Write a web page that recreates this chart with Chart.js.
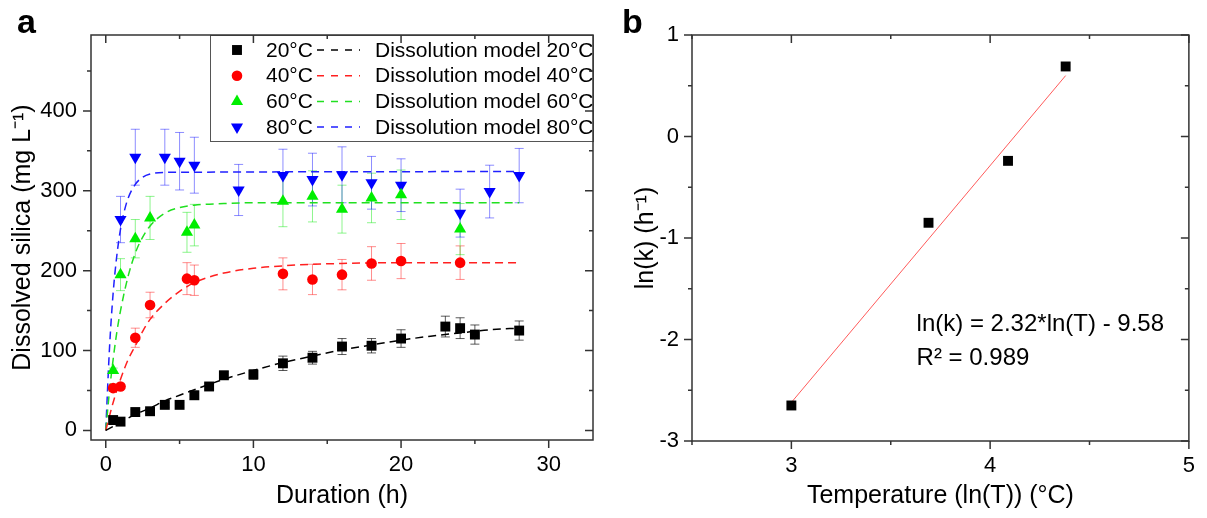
<!DOCTYPE html>
<html>
<head>
<meta charset="utf-8">
<script src="https://cdn.jsdelivr.net/npm/chart.js@4.4.0/dist/chart.umd.min.js"></script>
<style>
    body { margin: 0; background: #fff; }
    #wrap { position: relative; width: 1207px; height: 518px; }
    canvas { position: absolute; top: 0; }
    #silica-chart { left: 0; }
    #rate-chart { left: 610px; }
</style>
</head>
<body>
<div id="wrap">
    <canvas id="silica-chart" width="610" height="518"></canvas>
    <canvas id="rate-chart" width="597" height="518"></canvas>
</div>
<script>
// ---- panel a: dissolved silica (mg/L) vs duration (h)
const temps = ['20°C', '40°C', '60°C', '80°C']

const t20 = [0.5, 1, 2, 3, 4, 5, 6, 7, 8, 10, 12, 14, 16, 18, 20, 23, 24, 25, 28]
const c20 = [13, 11, 23, 24, 32, 32, 44, 55, 69, 70, 84, 91, 105, 106, 115, 130, 128, 120, 125]
const e20 = [2, 2, 3, 3, 3, 3, 5, 4, 5, 6, 9, 8, 10, 9, 11, 13, 13, 12, 12]

const t40 = [0.5, 1, 2, 3, 5.5, 6, 12, 14, 16, 18, 20, 24]
const c40 = [53, 55, 116, 157, 190, 188, 196, 189, 195, 209, 212, 210]
const e40 = [3, 3, 12, 16, 20, 19, 20, 19, 19, 21, 22, 21]

const t60 = [0.5, 1, 2, 3, 5.5, 6, 12, 14, 16, 18, 20, 24]
const c60 = [75, 195, 240, 266, 248, 257, 287, 293, 277, 291, 295, 252]
const e60 = [3, 20, 24, 27, 25, 26, 32, 32, 30, 31, 31, 32]

const t80 = [1, 2, 4, 5, 6, 9, 12, 14, 16, 18, 20, 24, 26, 28]
const c80 = [264, 342, 342, 337, 332, 301, 319, 314, 320, 310, 307, 272, 299, 319]
const e80 = [29, 35, 35, 36, 35, 32, 33, 33, 35, 33, 33, 30, 33, 34]

// dissolution model curves
const m20x = [0, 1, 2, 3, 4, 5, 6, 8, 10, 12, 14, 16, 18, 20, 22, 24, 26, 28]
const m20y = [0, 10, 20, 28, 37, 44, 51, 64, 75, 85, 93, 101, 107, 113, 118, 122, 126, 128]
const m40x = [0, 0.5, 1, 1.5, 2, 2.5, 3, 4, 5, 6, 7, 8, 10, 12, 14, 16, 20, 24, 28]
const m40y = [0, 35, 64, 88, 106, 124, 139, 159, 174, 185, 192, 197, 203, 206, 208, 209, 210, 210, 210]
const m60x = [0, 0.25, 0.5, 0.75, 1, 1.5, 2, 2.5, 3, 4, 5, 6, 8, 10, 28]
const m60y = [0, 49, 89, 123, 150, 192, 222, 242, 256, 272, 279, 282, 284, 285, 285]
const m80x = [0, 0.25, 0.5, 0.75, 1, 1.25, 1.5, 2, 2.5, 3, 4, 28]
const m80y = [0, 102, 172, 219, 252, 274, 290, 308, 317, 321, 323, 324]

const xTicksA = [0, 10, 20, 30]
const xMinorA = [5, 15, 25]
const yTicksA = [0, 100, 200, 300, 400]
const yMinorA = [50, 150, 250, 350, 450]

// ---- panel b: ln(k) vs ln(T)
const lnT = [3.00, 3.69, 4.09, 4.38]
const lnK = [-2.65, -0.85, -0.24, 0.69]
const fitX = [3.00, 4.38]
const fitY = [-2.62, 0.60]

const xTicksB = [3, 4, 5]
const xMinorB = [2.5, 3.5, 4.5]
const yTicksB = [-3, -2, -1, 0, 1]
const yMinorB = [-2.5, -1.5, -0.5, 0.5]

const FONT = '"Liberation Sans", Arial, sans-serif'

function pts(xs, ys) {
    return xs.map((x, i) => ({x: x, y: ys[i]}))
}

// frame round the plot area + major/minor ticks on all four sides
const frameTicks = {
    id: 'frameTicks',
    afterDraw(chart, args, opts) {
        const {ctx, chartArea: a, scales: {x, y}} = chart
        ctx.save()
        ctx.strokeStyle = '#333'
        ctx.lineWidth = 1.5
        ctx.strokeRect(a.left, a.top, a.right - a.left, a.bottom - a.top)
        ctx.beginPath()
        const xt = (vals, len) => vals.forEach(v => {
            const px = x.getPixelForValue(v)
            ctx.moveTo(px, a.bottom); ctx.lineTo(px, a.bottom + len)
            ctx.moveTo(px, a.top); ctx.lineTo(px, a.top + len)
        })
        const yt = (vals, len) => vals.forEach(v => {
            const py = y.getPixelForValue(v)
            ctx.moveTo(a.left - len, py); ctx.lineTo(a.left, py)
            ctx.moveTo(a.right - len, py); ctx.lineTo(a.right, py)
        })
        xt(opts.xMajor, 8); xt(opts.xMinor, 4)
        yt(opts.yMajor, 8); yt(opts.yMinor, 4)
        ctx.stroke()

        // panel letter
        ctx.fillStyle = '#000'
        ctx.font = 'bold 34px ' + FONT
        ctx.textBaseline = 'alphabetic'
        ctx.fillText(opts.letter, opts.letterX, 33)
        ctx.restore()
    }
}

const errorBars = {
    id: 'errorBars',
    beforeDatasetsDraw(chart) {
        const {ctx, scales: {x, y}} = chart
        chart.data.datasets.forEach(ds => {
            if (!ds.errors) return
            ctx.save()
            ctx.strokeStyle = ds.errorColor
            ctx.lineWidth = 1
            ctx.beginPath()
            ds.data.forEach((p, i) => {
                const px = x.getPixelForValue(p.x)
                const top = y.getPixelForValue(p.y + ds.errors[i])
                const bot = y.getPixelForValue(p.y - ds.errors[i])
                ctx.moveTo(px, top); ctx.lineTo(px, bot)
                ctx.moveTo(px - 4.5, top); ctx.lineTo(px + 4.5, top)
                ctx.moveTo(px - 4.5, bot); ctx.lineTo(px + 4.5, bot)
            })
            ctx.stroke()
            ctx.restore()
        })
    }
}

// two-column legend: marker + temperature, dashed sample + model name
const sampleLegend = {
    id: 'sampleLegend',
    afterDatasetsDraw(chart) {
        const ctx = chart.ctx
        const ds = chart.data.datasets
        ctx.save()
        ctx.fillStyle = '#fff'
        ctx.fillRect(210, 35, 383, 106)
        ctx.strokeStyle = '#555'
        ctx.lineWidth = 1
        ctx.strokeRect(210.5, 35.5, 383, 106)
        ctx.font = '21px ' + FONT
        ctx.textBaseline = 'middle'
        temps.forEach((lab, i) => {
            const yy = 50 + i * 25.7
            const mk = ds[i]
            const ln = ds[i + 4]
            ctx.fillStyle = mk.backgroundColor
            Chart.helpers.drawPoint(ctx, {pointStyle: mk.pointStyle, rotation: mk.pointRotation || 0, radius: mk.pointRadius, borderWidth: 0}, 237, yy)
            ctx.fillStyle = '#000'
            ctx.fillText(lab, 266, yy + 1)
            ctx.strokeStyle = ln.borderColor
            ctx.lineWidth = 1.5
            ctx.setLineDash([7, 7])
            ctx.beginPath()
            ctx.moveTo(317, yy); ctx.lineTo(360, yy)
            ctx.stroke()
            ctx.setLineDash([])
            ctx.fillText(ln.label, 375, yy + 1)
        })
        ctx.restore()
    }
}

function axisOpts(min, max, tickVals, size, titleText, titlePad, tickPad) {
    return {
        type: 'linear',
        min: min,
        max: max,
        afterBuildTicks: s => { s.ticks = tickVals.map(v => ({value: v})) },
        afterFit: s => { if (s.isHorizontal()) s.height = size; else s.width = size },
        grid: {display: false, drawTicks: false},
        border: {display: false},
        ticks: {color: '#000', padding: tickPad, font: {family: FONT, size: 22}},
        title: {display: true, text: titleText, color: '#000', font: {family: FONT, size: 25}, padding: titlePad}
    }
}

function markerSet(label, xs, ys, es, color, errColor, style, radius, rot) {
    return {
        label: label,
        data: pts(xs, ys),
        errors: es,
        errorColor: errColor,
        backgroundColor: color,
        borderColor: color,
        pointStyle: style,
        pointRadius: radius,
        pointRotation: rot,
        pointBorderWidth: 0,
        showLine: false
    }
}

function modelSet(label, xs, ys, color) {
    return {
        label: label,
        data: pts(xs, ys),
        borderColor: color,
        backgroundColor: color,
        borderWidth: 1.5,
        borderDash: [8, 5],
        pointRadius: 0,
        showLine: true,
        cubicInterpolationMode: 'monotone'
    }
}

function initSilicaChart() {
    const ctx = document.getElementById('silica-chart')
    new Chart(ctx, {
        type: 'scatter',
        data: {
            datasets: [
                markerSet('20°C', t20, c20, e20, '#000000', 'rgba(0,0,0,0.65)', 'rect', 7, 0),
                markerSet('40°C', t40, c40, e40, '#ff0000', 'rgba(255,0,0,0.45)', 'circle', 5.3, 0),
                markerSet('60°C', t60, c60, e60, '#00ee00', 'rgba(0,230,0,0.45)', 'triangle', 7, 0),
                markerSet('80°C', t80, c80, e80, '#0000ff', 'rgba(0,0,255,0.45)', 'triangle', 7, 180),
                modelSet('Dissolution model 20°C', m20x, m20y, '#000000'),
                modelSet('Dissolution model 40°C', m40x, m40y, '#ff2020'),
                modelSet('Dissolution model 60°C', m60x, m60y, '#20e020'),
                modelSet('Dissolution model 80°C', m80x, m80y, '#2020ff')
            ]
        },
        options: {
            responsive: false,
            animation: false,
            events: [],
            layout: {padding: {top: 35, right: 17, left: 0, bottom: 0}},
            scales: {
                x: axisOpts(-1, 33, xTicksA, 78, 'Duration (h)', {top: 0, bottom: 7}, 12),
                y: axisOpts(-12, 495, yTicksA, 91, 'Dissolved silica (mg L⁻¹)', {top: 8, bottom: 0}, 14)
            },
            plugins: {
                legend: {display: false},
                tooltip: {enabled: false},
                frameTicks: {xMajor: xTicksA, xMinor: xMinorA, yMajor: yTicksA, yMinor: yMinorA, letter: 'a', letterX: 17}
            }
        },
        plugins: [errorBars, sampleLegend, frameTicks]
    })
}

const fitText = {
    id: 'fitText',
    afterDraw(chart) {
        const {ctx, scales: {x, y}} = chart
        ctx.save()
        ctx.fillStyle = '#000'
        ctx.font = '24px ' + FONT
        ctx.textBaseline = 'alphabetic'
        const px = x.getPixelForValue(3.63)
        ctx.fillText('ln(k) = 2.32*ln(T) - 9.58', px, y.getPixelForValue(-1.92))
        ctx.fillText('R² = 0.989', px, y.getPixelForValue(-2.25))
        ctx.restore()
    }
}

function initRateChart() {
    const ctx = document.getElementById('rate-chart')
    new Chart(ctx, {
        type: 'scatter',
        data: {
            datasets: [{
                label: 'ln(k)',
                data: pts(lnT, lnK),
                backgroundColor: '#000',
                pointStyle: 'rect',
                pointRadius: 7,
                pointBorderWidth: 0,
                showLine: false
            }, {
                label: 'fit',
                data: pts(fitX, fitY),
                borderColor: '#ff5a5a',
                borderWidth: 1,
                pointRadius: 0,
                showLine: true
            }]
        },
        options: {
            responsive: false,
            animation: false,
            events: [],
            layout: {padding: {top: 35, right: 14, left: 0, bottom: 0}},
            scales: {
                x: axisOpts(2.5, 5, xTicksB, 77, 'Temperature (ln(T)) (°C)', {top: 0, bottom: 7}, 12),
                y: axisOpts(-3, 1, yTicksB, 82, 'ln(k) (h⁻¹)', {top: 21, bottom: 0}, 13)
            },
            plugins: {
                legend: {display: false},
                tooltip: {enabled: false},
                frameTicks: {xMajor: xTicksB, xMinor: xMinorB, yMajor: yTicksB, yMinor: yMinorB, letter: 'b', letterX: 12}
            }
        },
        plugins: [fitText, frameTicks]
    })
}

initSilicaChart()
initRateChart()
</script>
</body>
</html>
